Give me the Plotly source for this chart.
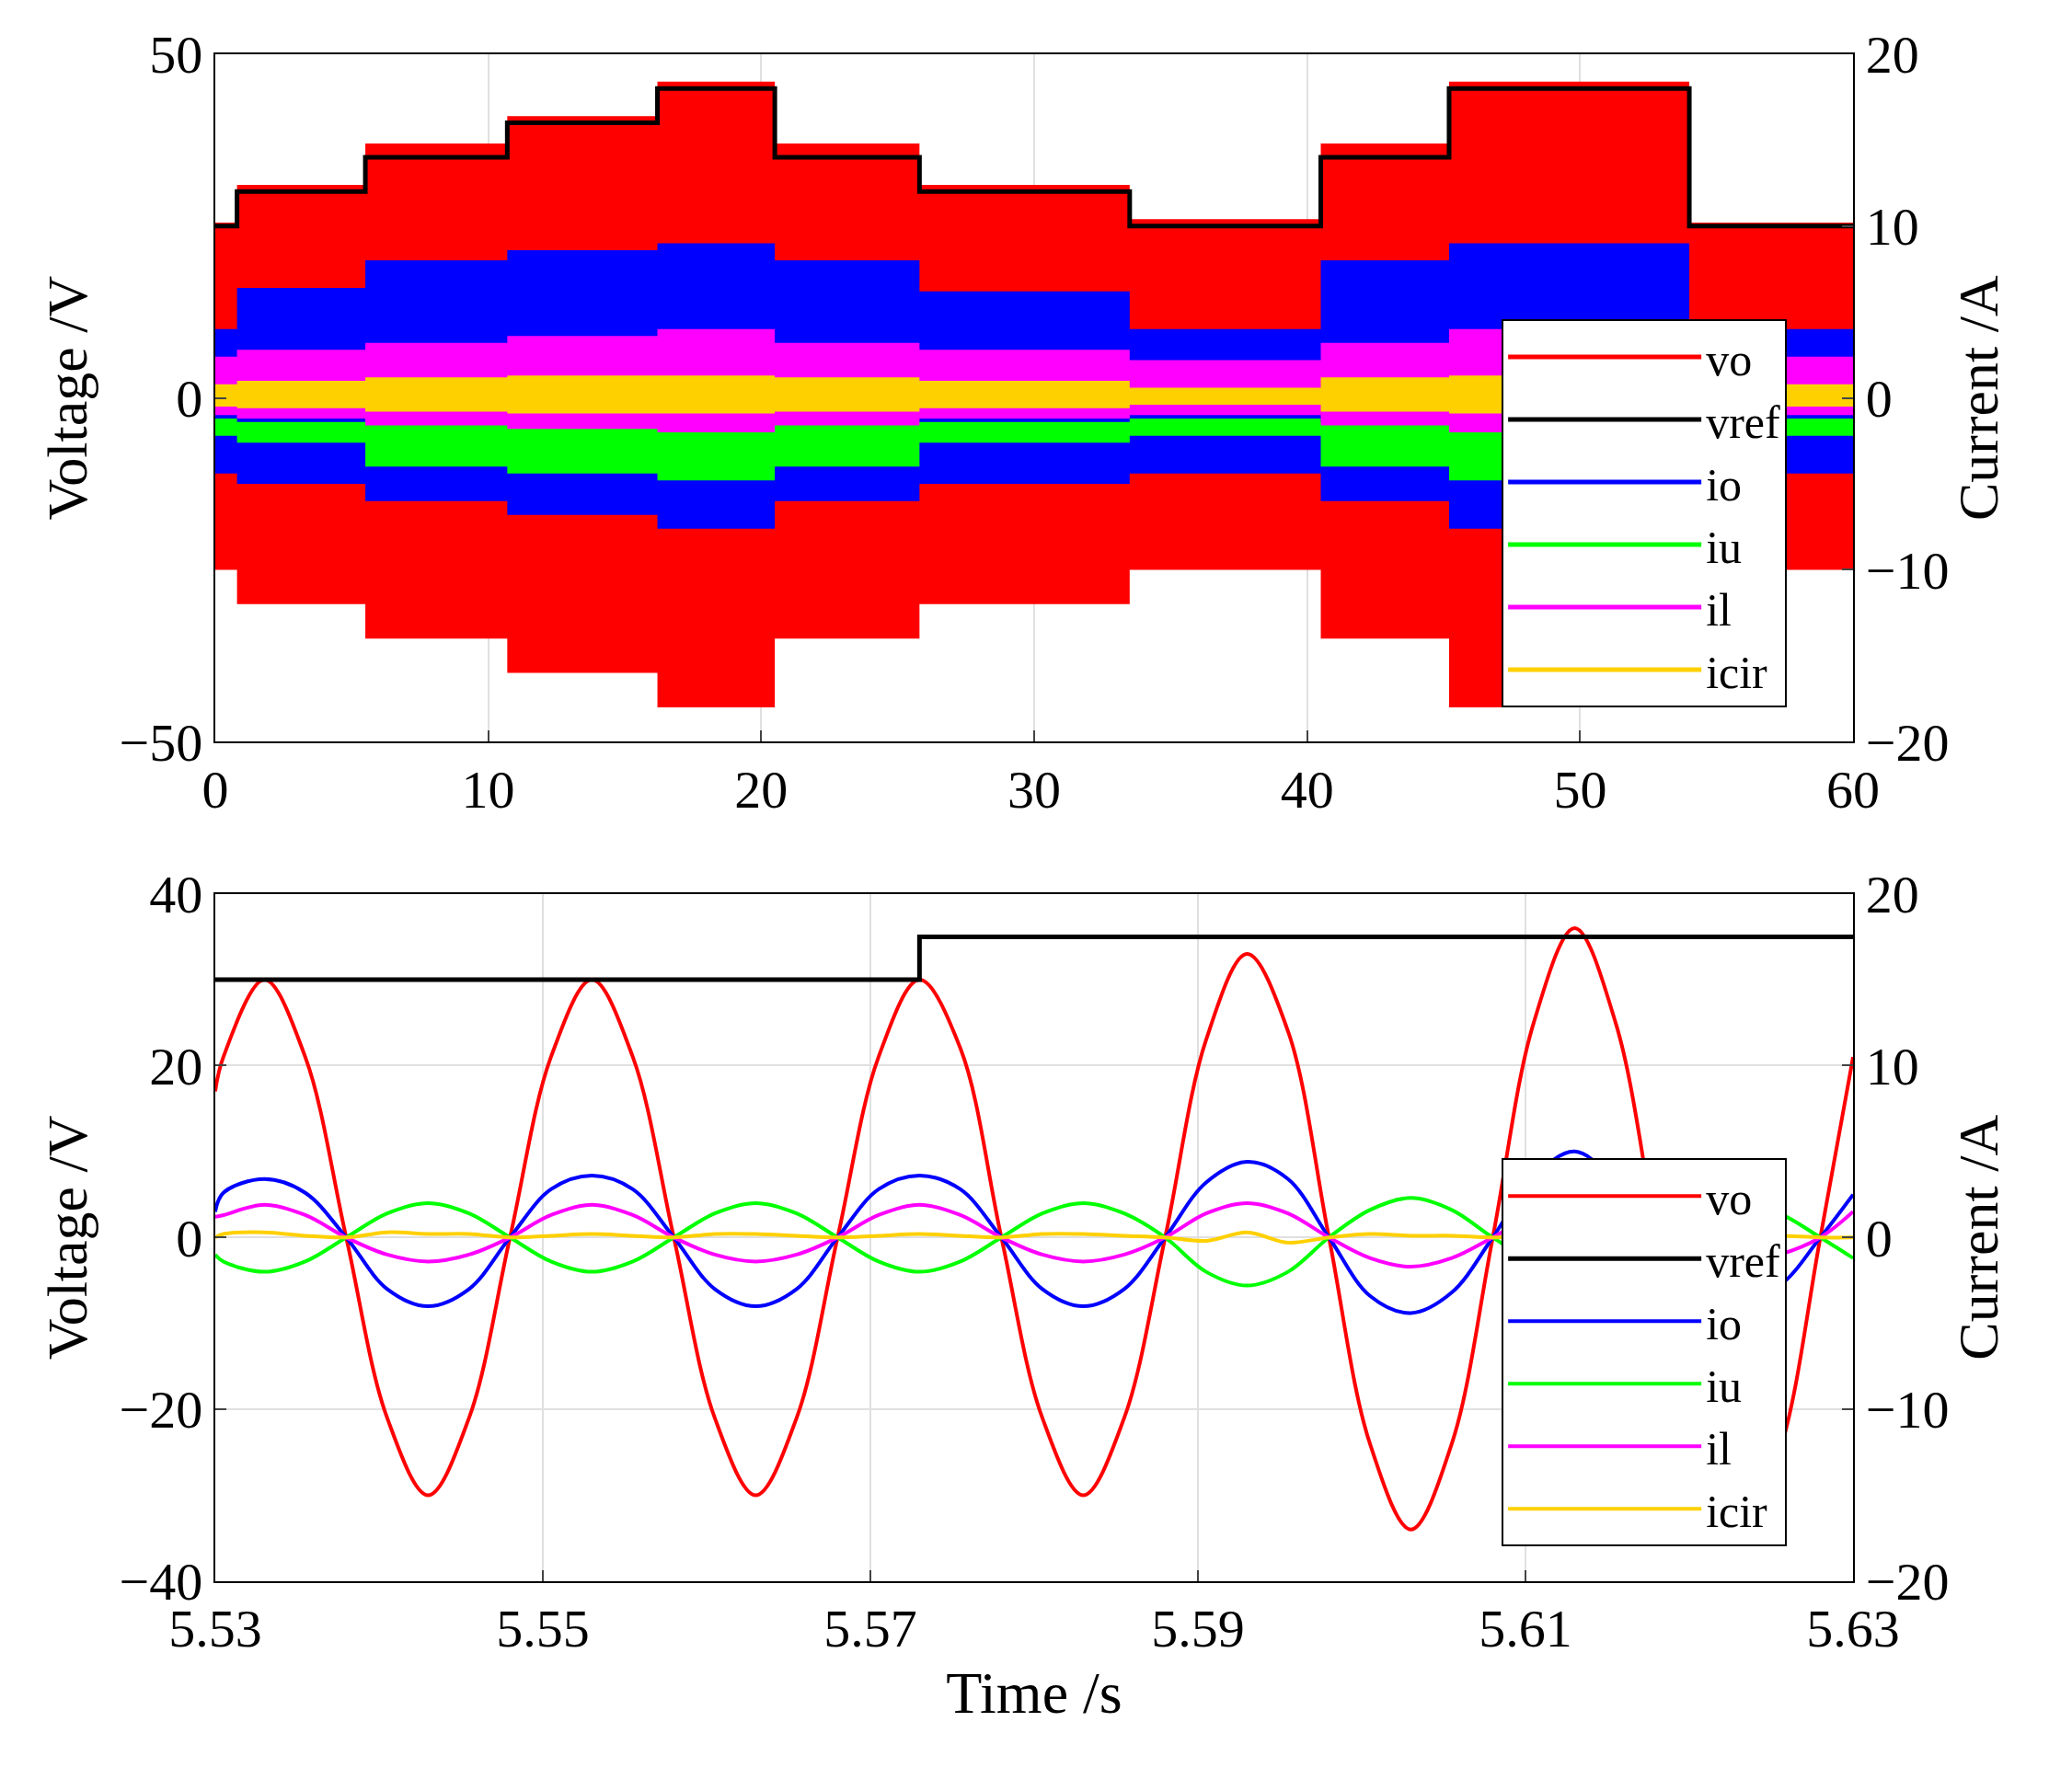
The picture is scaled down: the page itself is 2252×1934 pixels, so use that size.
import numpy as np
import plotly.graph_objects as go

# ---- top panel: 0-60 s, step envelopes ----
edges = [0, 0.8, 5.5, 10.7, 16.2, 20.5, 25.8, 33.5, 40.5, 45.2, 54, 60]
vref = [25, 30, 35, 40, 45, 35, 30, 25, 35, 45, 25]
vo_hi = [25.5, 31, 37, 41, 46, 37, 31, 26, 37, 46, 25.5]
vo_lo = [-25, -30, -35, -40, -45, -35, -30, -25, -35, -45, -25]
# currents in A
io_hi = [4.0, 6.4, 8.0, 8.6, 9.0, 8.0, 6.2, 4.0, 8.0, 9.0, 4.0]
io_lo = [-4.4, -5.0, -6.0, -6.8, -7.6, -6.0, -5.0, -4.4, -6.0, -7.6, -4.4]
iu_hi = [-1.2, -1.4, -1.4, -1.4, -1.4, -1.4, -1.4, -1.2, -1.4, -1.4, -1.2]
iu_lo = [-2.2, -2.6, -4.0, -4.4, -4.8, -4.0, -2.6, -2.2, -4.0, -4.8, -2.2]
il_hi = [2.4, 2.8, 3.2, 3.6, 4.0, 3.2, 2.8, 2.2, 3.2, 4.0, 2.4]
il_lo = [-1.0, -1.2, -1.6, -1.8, -2.0, -1.6, -1.2, -1.0, -1.6, -2.0, -1.0]
icir_hi = [0.8, 1.0, 1.2, 1.3, 1.3, 1.2, 1.0, 0.6, 1.2, 1.3, 0.8]
icir_lo = [-0.5, -0.6, -0.8, -0.9, -0.9, -0.8, -0.6, -0.4, -0.8, -0.9, -0.5]

# ---- bottom panel: zoom 5.53-5.63 s ----
t_bot = [5.53] + list(np.round(np.arange(5.5305, 5.6290, 0.0025), 4)) + [5.63]
vo_b = [17, 21, 30, 21, 0, -21, -30, -21, 0, 21, 30, 21, 0, -21, -30, -21, 0,
        21, 30, 22, 0, -21, -30, -21, 0, 23, 33, 24, 0, -24, -34, -24, 0,
        25, 36, 25, 0, -25, -35, -25, 0, 21]
io_b = [1.5, 2.6, 3.4, 2.6, 0, -3, -4, -3, 0, 2.8, 3.6, 2.8, 0, -3, -4, -3, 0,
        2.8, 3.6, 2.8, 0, -3, -4, -3, 0, 3.2, 4.4, 3.4, 0, -3.4, -4.4, -3.2, 0,
        3.5, 5.0, 3.2, 0, -2.8, -3.6, -2.8, 0, 2.5]
iu_b = [-1.0, -1.4, -2, -1.4, 0, 1.4, 2, 1.4, 0, -1.4, -2, -1.4, 0, 1.4, 2, 1.4, 0,
        -1.4, -2, -1.4, 0, 1.4, 2, 1.4, 0, -2, -2.8, -2, 0, 1.6, 2.3, 1.6, 0,
        -1.4, -2, -1.4, 0, 1.4, 2, 1.4, 0, -1.2]
il_b = [1.2, 1.3, 1.9, 1.3, 0, -1, -1.4, -1, 0, 1.3, 1.9, 1.3, 0, -1, -1.4, -1, 0,
        1.3, 1.9, 1.3, 0, -1, -1.4, -1, 0, 1.4, 2, 1.4, 0, -1.2, -1.7, -1.2, 0,
        1.3, 1.9, 1.3, 0, -1, -1.4, -1, 0, 1.5]
icir_b = [0, 0.2, 0.3, 0.1, 0, 0.3, 0.2, 0.2, 0, 0.1, 0.2, 0.1, 0, 0.2, 0.2, 0.1, 0,
          0.1, 0.2, 0.1, 0, 0.2, 0.2, 0.1, 0, -0.2, 0.3, -0.3, 0, 0.2, 0.1, 0.1, 0,
          0.1, 0.2, 0.1, 0, 0.1, 0.1, 0.1, 0, 0]
vref_t = [5.53, 5.573, 5.63]
vref_b = [30, 35, 35]

RED, BLK, BLU, GRN, MAG, YEL = "#ff0000", "#000000", "#0000ff", "#00ff00", "#ff00ff", "#ffd000"
names = ["vo", "vref", "io", "iu", "il", "icir"]
cols = [RED, BLK, BLU, GRN, MAG, YEL]

fig = go.Figure()
ex = edges
def st(v):
    return list(v) + [v[-1]]

def band(lo, hi, col, ya):
    fig.add_trace(go.Scatter(x=ex, y=st(lo), mode="lines", line=dict(width=0, shape="hv", color=col),
                             xaxis="x", yaxis=ya, showlegend=False, hoverinfo="skip"))
    fig.add_trace(go.Scatter(x=ex, y=st(hi), mode="lines", line=dict(width=0, shape="hv", color=col),
                             fill="tonexty", fillcolor=col, xaxis="x", yaxis=ya, showlegend=False))

band(vo_lo, vo_hi, RED, "y")
band(io_lo, io_hi, BLU, "y2")
band(iu_lo, iu_hi, GRN, "y2")
band(il_lo, il_hi, MAG, "y2")
band(icir_lo, icir_hi, YEL, "y2")
fig.add_trace(go.Scatter(x=ex, y=st(vref), mode="lines", line=dict(width=5, shape="hv", color=BLK),
                         xaxis="x", yaxis="y", showlegend=False))
# legend entries for top panel
for n, c in zip(names, cols):
    fig.add_trace(go.Scatter(x=[None], y=[None], mode="lines", name=n, line=dict(color=c, width=5),
                             xaxis="x", yaxis="y", legend="legend"))

# bottom panel
fig.add_trace(go.Scatter(x=t_bot, y=vo_b, mode="lines", name="vo", line=dict(color=RED, width=4, shape="spline"),
                         xaxis="x2", yaxis="y3", legend="legend2"))
fig.add_trace(go.Scatter(x=vref_t, y=vref_b, mode="lines", name="vref", line=dict(color=BLK, width=5, shape="hv"),
                         xaxis="x2", yaxis="y3", legend="legend2"))
for n, c, v in zip(names[2:], cols[2:], [io_b, iu_b, il_b, icir_b]):
    fig.add_trace(go.Scatter(x=t_bot, y=v, mode="lines", name=n, line=dict(color=c, width=4, shape="spline"),
                             xaxis="x2", yaxis="y4", legend="legend2"))

F = "Liberation Serif"
ax = dict(showline=True, linecolor="black", linewidth=2, ticks="inside", ticklen=12, tickwidth=2,
          showgrid=True, gridcolor="#e0e0e0", gridwidth=2, zeroline=False, automargin=False,
          tickfont=dict(family=F, size=58, color="black"))
tf = dict(family=F, size=62, color="black")
leg = dict(font=dict(family=F, size=50, color="black"), bgcolor="white", bordercolor="black",
           borderwidth=2, xanchor="left", yanchor="top", itemwidth=210, tracegroupgap=0,
           traceorder="normal")

XD = [0.1003, 0.8908]
fig.update_layout(
    width=2252, height=1934, paper_bgcolor="white", plot_bgcolor="white",
    margin=dict(l=0, r=0, t=0, b=0),
    xaxis=dict(ax, domain=XD, range=[0, 60], dtick=10, anchor="y", mirror=True),
    yaxis=dict(ax, domain=[0.5872, 0.9737], range=[-50, 50], dtick=50,
               title=dict(text="Voltage /V", font=tf, standoff=15)),
    yaxis2=dict(ax, overlaying="y", side="right", range=[-20, 20], dtick=10, anchor="x", showgrid=False,
                title=dict(text="Current /A", font=tf, standoff=10)),
    xaxis2=dict(ax, domain=XD, range=[5.53, 5.63], dtick=0.02, tick0=5.53, anchor="y3",
                mirror=True, tickformat=".2f",
                title=dict(text="Time /s", font=dict(family=F, size=64, color="black"), standoff=15)),
    yaxis3=dict(ax, domain=[0.1154, 0.5017], range=[-40, 40], dtick=20, anchor="x2",
                title=dict(text="Voltage /V", font=tf, standoff=15)),
    yaxis4=dict(ax, overlaying="y3", side="right", range=[-20, 20], dtick=10, anchor="x2", showgrid=False,
                title=dict(text="Current /A", font=tf, standoff=10)),
    legend=dict(leg, x=0.7212, y=0.8247),
    legend2=dict(leg, x=0.7212, y=0.353),
)

fig.write_html("out.html")
